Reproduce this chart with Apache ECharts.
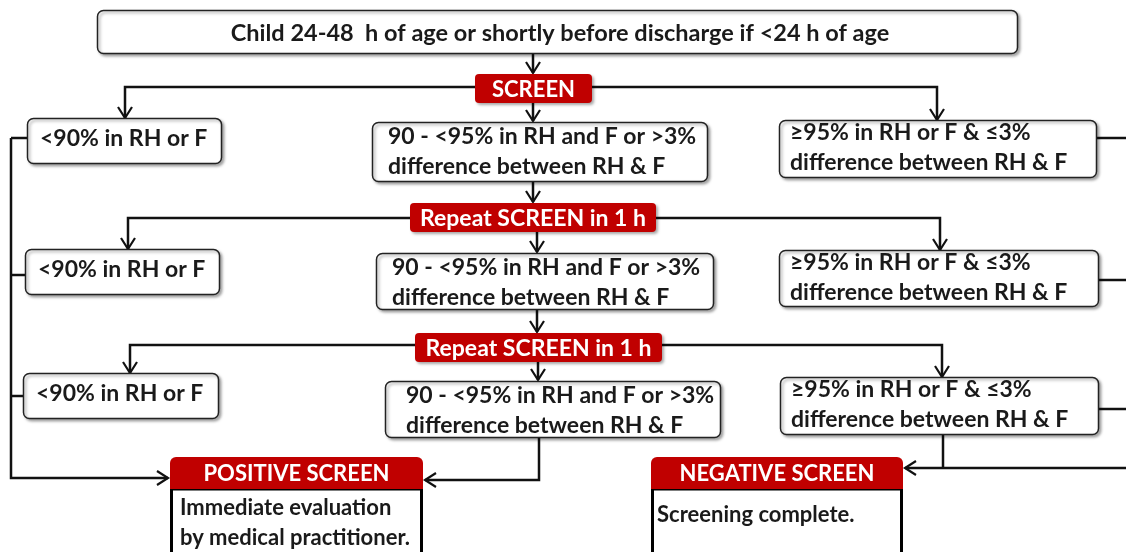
<!DOCTYPE html>
<html>
<head>
<meta charset="utf-8">
<script src="https://cdn.jsdelivr.net/npm/echarts@6/dist/echarts.min.js"></script>
<style>
  html, body { margin: 0; padding: 0; background: #fff; }
  #chart { width: 1126px; height: 552px; }
</style>
</head>
<body>
<div id="chart"></div>
<script>
// texts of the flowchart
const titleText = 'Child 24-48  h of age or shortly before discharge if <24 h of age'
const screenLabels = ['SCREEN', 'Repeat SCREEN in 1 h', 'Repeat SCREEN in 1 h']
const lowLabels = ['<90% in RH or F', '<90% in RH or F', '<90% in RH or F']
const midLabels = [
  ['90 - <95% in RH and F or >3%', 'difference between RH & F'],
  ['90 - <95% in RH and F or >3%', 'difference between RH & F'],
  ['90 - <95% in RH and F or >3%', 'difference between RH & F']
]
const highLabels = [
  ['≥95% in RH or F & ≤3%', 'difference between RH & F'],
  ['≥95% in RH or F & ≤3%', 'difference between RH & F'],
  ['≥95% in RH or F & ≤3%', 'difference between RH & F']
]
const outcomeTitles = ['POSITIVE SCREEN', 'NEGATIVE SCREEN']
const outcomeNotes = [
  ['Immediate evaluation', 'by medical practitioner.'],
  ['Screening complete.']
]

// layout: [x, y, w, h]
const titleBox = [97, 10, 920, 43]
const screenBoxes = [[475, 74, 117, 29], [410, 203, 246, 29], [415, 333, 247, 29]]
const lowBoxes = [[27, 118, 194, 45], [25, 249, 194, 45], [23, 373, 195, 45]]
const midBoxes = [[372, 122, 335, 59], [376, 253, 337, 56], [385, 381, 335, 56]]
const highBoxes = [[779, 120, 317, 57], [779, 250, 319, 56], [780, 377, 318, 57]]
const outcomeBoxes = [[170, 457, 253, 32], [651, 457, 252, 32]]
const branchX = [[125, 937], [128, 940], [130, 942]]
const branchY = [87, 218, 345]

const ink = '#111'
const red = '#c00000'
const boxFont = 'bold 23px Lato, "Open Sans", sans-serif'
const headFont = 'bold 22px Lato, "Open Sans", sans-serif'

const elements = []

function roundBox(b) {
  return {
    type: 'rect',
    shape: { x: b[0] + 0.5, y: b[1] + 0.5, width: b[2], height: b[3], r: 6 },
    style: {
      fill: '#fff', stroke: '#222', lineWidth: 1.5,
      shadowBlur: 3, shadowOffsetX: 2, shadowOffsetY: 2, shadowColor: 'rgba(0,0,0,0.35)'
    }
  }
}

function label(text, x, y, align, font, color) {
  return {
    type: 'text',
    style: {
      text: text, x: x, y: y, font: font || boxFont, fill: color || '#1a1a1a',
      align: align || 'left', verticalAlign: 'middle', lineHeight: 30
    }
  }
}

function line(points, width) {
  return {
    type: 'polyline',
    shape: { points: points },
    style: { stroke: ink, lineWidth: width || 2.5, fill: null }
  }
}

function arrowDown(x, y) {
  return line([[x - 7, y - 11], [x, y], [x + 7, y - 11]], 2.2)
}
function arrowLeft(x, y) {
  return line([[x + 11, y - 7], [x, y], [x + 11, y + 7]], 2.2)
}
function arrowRight(x, y) {
  return line([[x - 11, y - 7], [x, y], [x - 11, y + 7]], 2.2)
}

// connectors (drawn first, boxes go on top)
// title -> SCREEN
elements.push(line([[533, 53], [533, 73]]), arrowDown(533, 73))
// SCREEN -> row 1 mid, repeat boxes -> next rows
elements.push(line([[533, 103], [533, 121]]), arrowDown(533, 121))
elements.push(line([[533, 181], [533, 202]]), arrowDown(533, 202))
elements.push(line([[537, 232], [537, 252]]), arrowDown(537, 252))
elements.push(line([[537, 309], [537, 332]]), arrowDown(537, 332))
elements.push(line([[538, 362], [538, 380]]), arrowDown(538, 380))

branchY.forEach(function (y, i) {
  const s = screenBoxes[i]
  const lx = branchX[i][0]
  const rx = branchX[i][1]
  elements.push(line([[s[0], y], [lx, y], [lx, lowBoxes[i][1]]]), arrowDown(lx, lowBoxes[i][1]))
  elements.push(line([[s[0] + s[2], y], [rx, y], [rx, highBoxes[i][1]]]), arrowDown(rx, highBoxes[i][1]))
})

// left collector -> POSITIVE SCREEN
elements.push(line([[11, 138], [11, 478], [168, 478]]), arrowRight(168, 478))
elements.push(line([[11, 138], [27, 138]]), line([[11, 275], [25, 275]]), line([[11, 396], [23, 396]]))
// last mid box -> POSITIVE SCREEN
elements.push(line([[539, 437], [539, 480], [425, 480]]), arrowLeft(425, 480))
// right side -> NEGATIVE SCREEN
elements.push(line([[1096, 138], [1126, 138]]), line([[1098, 280], [1126, 280]]), line([[1098, 409], [1126, 409]]))
elements.push(line([[943, 434], [943, 468]]), line([[1126, 468], [905, 468]]), arrowLeft(905, 468))

// title box
elements.push(roundBox(titleBox))
elements.push(label(titleText, 560, 33, 'center', 'bold 23.5px Lato, "Open Sans", sans-serif'))

// screen markers
screenBoxes.forEach(function (b, i) {
  elements.push({
    type: 'rect',
    shape: { x: b[0], y: b[1], width: b[2], height: b[3], r: 4 },
    style: { fill: red, shadowBlur: 3, shadowOffsetX: 2, shadowOffsetY: 2, shadowColor: 'rgba(0,0,0,0.35)' }
  })
  elements.push(label(screenLabels[i], b[0] + b[2] / 2, b[1] + b[3] / 2 + 1, 'center', i === 0 ? headFont : boxFont, '#fff'))
})

// result boxes
lowBoxes.forEach(function (b, i) {
  elements.push(roundBox(b))
  elements.push(label(lowLabels[i], b[0] + 13, b[1] + 21))
})
midBoxes.forEach(function (b, i) {
  elements.push(roundBox(b))
  elements.push(label(midLabels[i].join('\n'), b[0] + 16 + (i === 2 ? 5 : 0), b[1] + 30))
})
highBoxes.forEach(function (b, i) {
  elements.push(roundBox(b))
  elements.push(label(highLabels[i].join('\n'), b[0] + 11, b[1] + 28))
})

// outcomes
outcomeBoxes.forEach(function (b, i) {
  elements.push({
    type: 'rect',
    shape: { x: b[0] + 1.5, y: b[1] + b[3], width: b[2] - 3, height: 80 },
    style: { fill: '#fff', stroke: '#000', lineWidth: 3 }
  })
  elements.push({
    type: 'rect',
    shape: { x: b[0], y: b[1], width: b[2], height: b[3], r: [6, 6, 0, 0] },
    style: { fill: red }
  })
  elements.push(label(outcomeTitles[i], b[0] + b[2] / 2, b[1] + b[3] / 2 + 1, 'center', headFont, '#fff'))
})
elements.push(label(outcomeNotes[0].join('\n'), 180, 523, 'left', 'bold 22px Lato, sans-serif'))
elements.push(label(outcomeNotes[1].join('\n'), 657, 515, 'left', 'bold 22px Lato, sans-serif'))

const chart = echarts.init(document.getElementById('chart'), null, { renderer: 'canvas' })
chart.setOption({
  backgroundColor: '#fff',
  animation: false,
  graphic: { elements: elements }
})
</script>
</body>
</html>
